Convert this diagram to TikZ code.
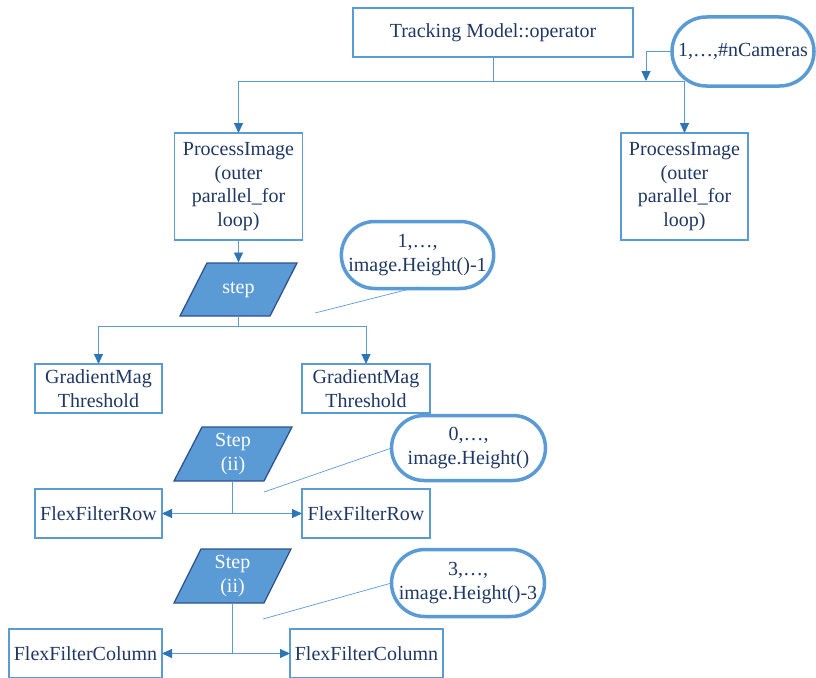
\documentclass[tikz,border=0pt]{standalone}
\usepackage{fontspec}
\setmainfont{Liberation Serif}
\usetikzlibrary{arrows.meta,shapes.misc,calc}
\definecolor{edgeblue}{HTML}{5B9BD5}
\definecolor{tipblue}{HTML}{2E75B6}
\definecolor{inkblue}{HTML}{1F3864}
\definecolor{darkrim}{HTML}{2F528F}

\begin{document}
\begin{tikzpicture}[x=1pt,y=-1pt,
  every node/.style={font=\fontsize{20}{23.5}\selectfont, text=inkblue,
    align=center, inner sep=0pt, outer sep=0pt},
  box/.style={draw=edgeblue, line width=1.4pt, fill=white},
  pill/.style={rounded rectangle, draw=edgeblue, line width=3.5pt, fill=white},
  loopbox/.style={minimum width=90pt, minimum height=53pt, text=white},
  loopfill/.style={fill=edgeblue, draw=darkrim, line width=1.3pt, line join=miter},
  conn/.style={draw=edgeblue, line width=0.9pt},
  arr/.style={conn, -{Triangle[length=10pt,width=9pt,color=tipblue]}},
  note/.style={draw=edgeblue, line width=0.7pt}
]
\useasboundingbox (0,0) rectangle (816,677);

% top level operator and camera loop
\node[box, minimum width=280pt, minimum height=49pt] (top) at (493,32.5) {Tracking Model::operator};
\node[pill, minimum width=142pt, minimum height=69pt] (cams) at (743,51.5) {1,…,\#nCameras};

% per-camera image processing
\node[box, minimum width=128pt, minimum height=107pt] (pL) at (238.5,186.5)
  {ProcessImage\\(outer\\parallel\_for\\loop)};
\node[box, minimum width=127pt, minimum height=107pt] (pR) at (684.5,186.5)
  {ProcessImage\\(outer\\parallel\_for\\loop)};

\coordinate (j1) at (493,81);
\coordinate (cj) at (646,81);
\draw[conn] (top.south) -- (j1);
\draw[arr] (j1) -| (pL.north);
\draw[arr] (j1) -| (pR.north);
\draw[arr] (cams.west) -| (cj);

% row loop: gradient magnitude threshold
\path[loopfill] (180,316) -- (270,316) -- (297,263) -- (207,263) -- cycle;
\node[loopbox] (s1) at (238.5,289.5) {step};
\node[pill, minimum width=152pt, minimum height=67pt] (l1) at (417.5,255) {1,…,\\image.Height()-1};
\node[box, minimum width=127pt, minimum height=49pt] (gL) at (98.5,388.5) {GradientMag\\Threshold};
\node[box, minimum width=128pt, minimum height=49pt] (gR) at (366,388.5) {GradientMag\\Threshold};

\draw[arr] (pL.south) -- ($(s1.north)+(0,-0.5)$);
\coordinate (j2) at (238.5,326);
\draw[conn] (s1.south) -- (j2);
\draw[arr] (j2) -| (gL.north);
\draw[arr] (j2) -| (gR.north);
\coordinate (n1) at (315,313);
\draw[note] ($(l1.south)+(0,-1.5)$) -- (n1);

% row filter loop
\path[loopfill] (174,481) -- (264,481) -- (292,427) -- (202,427) -- cycle;
\node[loopbox, minimum height=54pt] (s2) at (233,454) {Step\\(ii)};
\node[pill, minimum width=154pt, minimum height=65pt] (l2) at (468.5,448) {0,…,\\image.Height()};
\node[box, minimum width=127pt, minimum height=49pt] (fL) at (98.5,513.5) {FlexFilterRow};
\node[box, minimum width=128pt, minimum height=49pt] (fR) at (366,513.5) {FlexFilterRow};

\coordinate (j3) at (232,513.5);
\draw[conn] (s2.south -| j3) -- (j3);
\draw[arr] (j3) -- (fL.east);
\draw[arr] (j3) -- (fR.west);
\coordinate (n2) at (264,492);
\draw[note] (l2.west) -- (n2);

% column filter loop
\path[loopfill] (174,603) -- (264,603) -- (291,549) -- (201,549) -- cycle;
\node[loopbox, minimum height=54pt] (s3) at (232.5,576) {Step\\(ii)};
\node[pill, minimum width=153pt, minimum height=67pt] (l3) at (468,583) {3,…,\\image.Height()-3};
\node[box, minimum width=153pt, minimum height=49pt] (cL) at (85.5,653.5) {FlexFilterColumn};
\node[box, minimum width=153pt, minimum height=49pt] (cR) at (366.5,653.5) {FlexFilterColumn};

\coordinate (j4) at (232,653.5);
\draw[conn] (s3.south -| j4) -- (j4);
\draw[arr] (j4) -- (cL.east);
\draw[arr] (j4) -- (cR.west);
\coordinate (n3) at (263,619);
\draw[note] (l3.west) -- (n3);
\end{tikzpicture}
\end{document}
